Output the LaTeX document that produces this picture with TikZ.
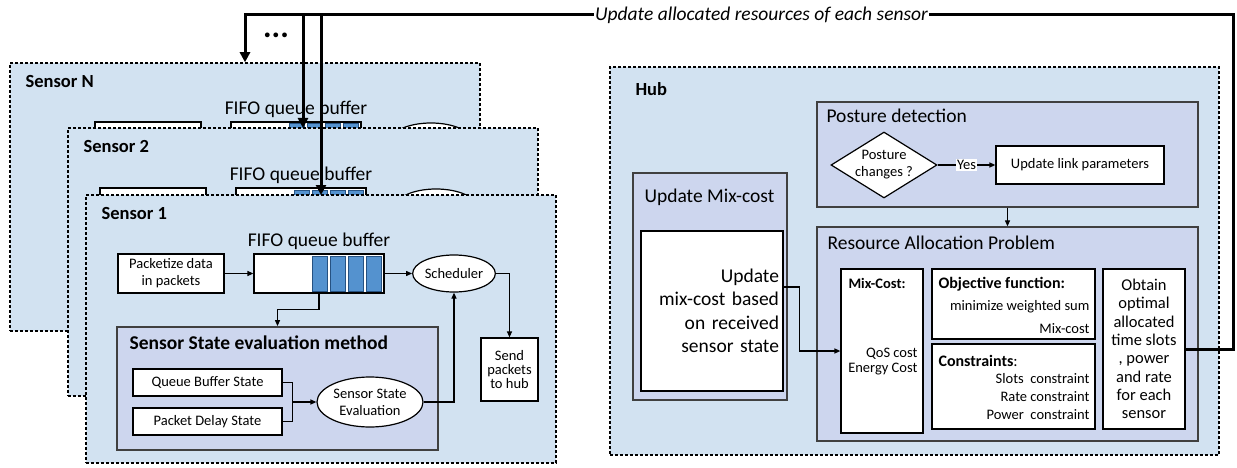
\documentclass[tikz,border=0pt]{standalone}
\usepackage{fontspec}
\setmainfont{Carlito}
\usetikzlibrary{arrows.meta,shapes.geometric}

\definecolor{panel}{RGB}{210,226,241}
\definecolor{lav}{RGB}{205,214,238}
\definecolor{cell}{RGB}{84,146,207}
\definecolor{cellline}{RGB}{38,82,130}

\newcommand\fbig{\fontsize{19.5}{23.5}\selectfont}
\newcommand\flab{\fontsize{18.5}{22}\selectfont}
\newcommand\fmid{\fontsize{16}{19}\selectfont}
\newcommand\fobt{\fontsize{16.5}{18.3}\selectfont}
\newcommand\fsmall{\fontsize{14.5}{17}\selectfont}
\newcommand\ftight{\fontsize{14.5}{14}\selectfont}

\tikzset{
  dashbox/.style={draw, fill=panel, line width=1.5pt, dash pattern=on 3pt off 2pt, inner sep=0pt},
  sensorbox/.style={dashbox, minimum width=470pt, minimum height=268pt},
  lavbox/.style={draw=black!75, fill=lav, line width=1.3pt, inner sep=0pt},
  wbox/.style={draw, fill=white, line width=1.2pt, inner sep=2pt, font=\fsmall},
  ellbox/.style={ellipse, draw, fill=white, line width=1.2pt, inner sep=0pt, font=\fsmall},
  dia/.style={diamond, draw, fill=white, line width=1.2pt, inner sep=0pt, minimum width=106pt, minimum height=66pt},
  cellbox/.style={fill=cell, draw=cellline, line width=1pt},
  wire/.style={line width=1.2pt},
  link/.style={wire, -{Triangle[length=6pt,width=5pt]}},
  fb/.style={line width=3pt},
  fbarrow/.style={fb, -{Triangle[length=10pt,width=10pt]}},
}

\begin{document}
\begin{tikzpicture}[x=1pt, y=-1pt]
\useasboundingbox (0,0) rectangle (1237,468);

% sensors further back, only their upper part shows
\foreach \sn/\stitle/\bx/\by/\cx/\cy in {N/Sensor N/-76/-132/-23/-132, 2/Sensor 2/-18/-67/-18/-66}{
  \begin{scope}[shift={(\bx,\by)}]
    \node[sensorbox] (s\sn) at (321,329) {};
    \node[font=\flab\bfseries, anchor=west] (s\sn-lab) at (98,214) {\stitle};
  \end{scope}
  \begin{scope}[shift={(\cx,\cy)}]
    \node[font=\fbig] (s\sn-fifo) at (319,241) {FIFO queue buffer};
    \node[wbox, minimum width=106pt, minimum height=39pt] (s\sn-pkt) at (171,273.5) {};
    \node[wbox, minimum width=130pt, minimum height=39pt] (s\sn-q) at (319,273.5) {};
    \foreach \k in {0,...,3}
      \draw[cellbox] (312+18*\k,256) rectangle ++(15.5,35);
    \node[ellbox, minimum width=82pt, minimum height=37pt] (s\sn-sch) at (454,273.5) {};
  \end{scope}
}

% sensor 1 in front
\node[sensorbox] (s1) at (321,329) {};
\node[font=\flab\bfseries, anchor=west] (s1-lab) at (98,214) {Sensor 1};
\node[font=\fbig] (s1-fifo) at (319,241) {FIFO queue buffer};
\node[wbox, minimum width=106pt, minimum height=39pt, align=center] (s1-pkt) at (171,273.5) {Packetize data\\in packets};
\node[wbox, minimum width=130pt, minimum height=39pt] (s1-q) at (319,273.5) {};
\foreach \k in {0,...,3}
  \draw[cellbox] (312+18*\k,256) rectangle ++(15.5,35);
\node[ellbox, minimum width=82pt, minimum height=37pt] (s1-sch) at (454,273.5) {Scheduler};
\node[wbox, font=\ftight, minimum width=57pt, minimum height=63pt, align=center] (s1-send) at (509.5,369.5) {Send\\packets\\to hub};
\node[lavbox, line width=1.8pt, minimum width=321pt, minimum height=123pt] (s1-eval) at (277.5,388.5) {};
\node[font=\fbig\bfseries, anchor=west] (s1-evlab) at (126,343) {Sensor State evaluation method};
\node[wbox, minimum width=149pt, minimum height=27pt] (s1-qbs) at (207.5,382.5) {Queue Buffer State};
\node[wbox, minimum width=149pt, minimum height=27pt] (s1-pds) at (207.5,421.5) {Packet Delay State};
\node[ellbox, minimum width=106pt, minimum height=50pt, align=center] (s1-sse) at (370,402) {Sensor State\\Evaluation};

\draw[link] (s1-pkt) -- (s1-q);
\draw[link] (s1-q) -- (s1-sch);
\draw[link] (s1-sch.east) -| (s1-send.north);
\draw[link] (s1-q.south) -- ++(0,16) -| (s1-eval.north);
\draw[wire] (s1-qbs.east) -- ++(10,0) coordinate (s1-j) |- (s1-pds.east);
\draw[link] (s1-j |- s1-sse.west) -- (s1-sse.west);
\draw[link] (s1-sse.east) -| (s1-sch.south);

% hub
\node[dashbox, minimum width=609pt, minimum height=388pt] (hub) at (914.5,261) {};
\node[font=\flab\bfseries, anchor=west] (hublab) at (632,89) {Hub};

\node[lavbox, minimum width=154pt, minimum height=227pt] (mixupd) at (710,286.5) {};
\node[font=\fbig, anchor=west] (mixlab) at (641,197) {Update Mix-cost};
\node[wbox, font=\fbig, minimum width=142pt, minimum height=160pt, inner xsep=4pt, text width=134pt, align=right] (mixtxt) at (712,311) {Update\\mix-cost based\\on received\\sensor state};

\node[lavbox, minimum width=381pt, minimum height=105pt] (posture) at (1007.5,154.5) {};
\node[font=\fbig, anchor=west] (postlab) at (823,116) {Posture detection};
\node[dia] (chg) at (884,165) {};
\node[font=\fsmall, align=center] (chgtxt) at (chg) {Posture\\changes ?};
\node[wbox, minimum width=168pt, minimum height=38pt] (linkp) at (1080,165) {Update link parameters};
\draw[link] (chg) -- node[fill=white, inner sep=1pt, font=\fsmall] {Yes} (linkp);

\node[lavbox, minimum width=381pt, minimum height=214pt] (rap) at (1007.5,334) {};
\node[font=\fbig, anchor=west] (raplab) at (824,243) {Resource Allocation Problem};
\draw[link] (posture) -- (rap);

\node[wbox, minimum width=82pt, minimum height=164pt] (mixc) at (882,351) {};
\node[font=\fsmall\bfseries, anchor=west] at (845,283) {Mix-Cost:};
\node[font=\fontsize{14.5}{15}\selectfont, align=right, anchor=east] at (921,361.5) {QoS cost\\Energy Cost};

\node[wbox, minimum width=163pt, minimum height=70pt] (obj) at (1013.5,304) {};
\node[font=\fmid\bfseries, anchor=west] at (935,284) {Objective function:};
\node[font=\fsmall, anchor=east] at (1093,307) {minimize weighted sum};
\node[font=\fsmall, anchor=east] at (1093,329) {Mix-cost};

\node[wbox, minimum width=163pt, minimum height=85pt] (cons) at (1013.5,386.5) {};
\node[font=\fmid, anchor=west] at (935,361) {\textbf{Constraints}:};
\node[font=\fontsize{14.5}{18}\selectfont, align=right, anchor=east] at (1093,397) {Slots\ \ constraint\\Rate constraint\\Power\ \ constraint};

\node[wbox, font=\fobt, minimum width=82pt, minimum height=160pt, align=center] (obtain) at (1144,349) {Obtain\\optimal\\allocated\\time slots\\, power\\and rate\\for each\\sensor};

\draw[link] ([yshift=24pt]mixtxt.east) -- ++(16,0) |- (mixc.west);

% feedback to the sensors
\node[font=\fbig\itshape, inner sep=1pt] (upd) at (761.5,15) {Update allocated resources of each sensor};
\draw[fb] (obtain.east) -- ++(48,0) |- (upd.east);
\draw[fbarrow] (upd.west) -| (sN.north);
\coordinate (tapN) at (303,128);
\coordinate (tap2) at (321,195);
\draw[fbarrow] (tapN |- upd.west) -- (tapN);
\draw[fbarrow] (tap2 |- upd.west) -- (tap2);
\node[font=\fontsize{32}{32}\selectfont\bfseries] (dots) at (276,35) {...};
\end{tikzpicture}
\end{document}
